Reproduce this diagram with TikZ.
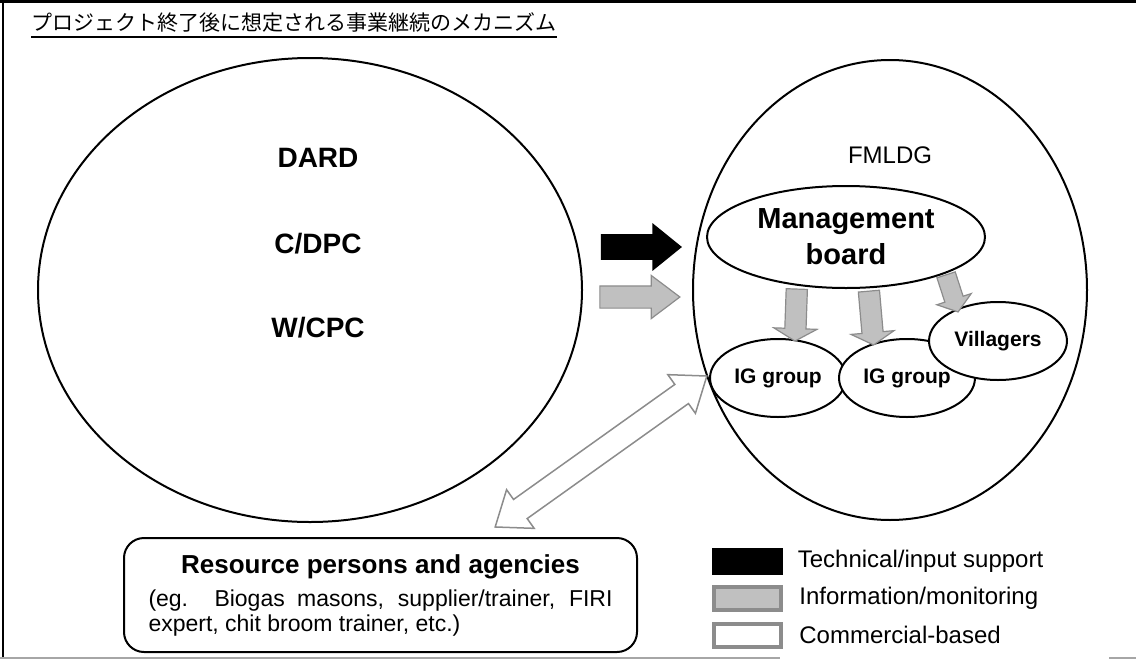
\documentclass[tikz,border=0pt]{standalone}
\usepackage{fontspec}
\setmainfont{Liberation Sans}
\newfontfamily\jpfont{Noto Sans CJK JP}
\usetikzlibrary{positioning,calc,shapes.geometric,shapes.arrows}
\definecolor{fillgray}{HTML}{C0C0C0}
\definecolor{edgegray}{HTML}{8C8C8C}
\definecolor{rulegray}{HTML}{A6A6A6}
\tikzset{
  bubble/.style={ellipse, draw, line width=1pt, inner sep=0pt},
  bigword/.style={font=\fontsize{14}{16}\selectfont\bfseries},
  groupword/.style={font=\fontsize{10.5}{12}\selectfont\bfseries},
  keyword/.style={font=\fontsize{12}{14}\selectfont, inner sep=0pt, anchor=west},
  techarrow/.style={single arrow, fill=black, inner xsep=0pt, inner ysep=6.25pt, minimum height=40.5pt,
    single arrow head extend=5.5pt, single arrow tip angle=78},
  infoarrow/.style={single arrow, fill=fillgray, draw=edgegray, line width=0.6pt, inner xsep=0pt, inner ysep=5.25pt,
    minimum height=40pt, single arrow head extend=5.25pt, single arrow tip angle=74},
  downarrow/.style={single arrow, fill=fillgray, draw=edgegray, line width=0.6pt, inner xsep=0pt, inner ysep=5pt,
    minimum height=26pt, single arrow head extend=5.5pt, single arrow tip angle=120},
  tradearrow/.style={double arrow, fill=white, draw=edgegray, line width=0.75pt, inner xsep=0pt, inner ysep=5.5pt,
    minimum height=130pt, double arrow head extend=6pt, double arrow tip angle=75},
  keybox/.style={minimum width=35.5pt, minimum height=13.5pt, inner sep=0pt},
}
\begin{document}
\begin{tikzpicture}[x=0.5pt,y=-0.5pt]
\useasboundingbox (0,0) rectangle (1136,659);
\draw[line width=1.5pt] (0,1.5) -- (1136,1.5);
\draw[line width=1pt] (3,0) -- (3,657);
\draw[line width=1pt, rulegray] (0,657.5) -- (780,657.5) (1109,657.5) -- (1136,657.5);

\node[anchor=base west, inner sep=0pt, font=\jpfont\fontsize{10.5}{13}\selectfont] (title) at (31,30) {プロジェクト終了後に想定される事業継続のメカニズム};
\draw[line width=0.8pt] ($(title.base west)+(0,7)$) -- ($(title.base east)+(0,7)$);

\node[bubble, minimum width=272pt, minimum height=232pt] (gov) at (310,290) {};
\node[bigword] (dard) at (318,158) {DARD};
\node[bigword] (dpc) at (318,244) {C/DPC};
\node[bigword] (cpc) at (318,328) {W/CPC};

\node[bubble, minimum width=197pt, minimum height=230pt] (fml) at (890,290) {};
\node[font=\fontsize{12}{14}\selectfont] (fmlname) at (890,155) {FMLDG};

\node[techarrow] (tech) at ($(gov.east)!0.5!(fml.west)+(-4,-43)$) {};
\node[infoarrow] (info) at ($(gov.east)!0.5!(fml.west)+(-5,7)$) {};

\node[bubble, fill=white, minimum width=139pt, minimum height=51pt, align=center,
  font=\fontsize{14.5}{18}\selectfont\bfseries] (board) at (846,237) {Management\\board};

\coordinate (restip) at (495,527);
\node[tradearrow, rotate=35.5] (trade) at ($(restip)!0.5!(707,376)$) {};

\node[bubble, minimum width=68pt, minimum height=39pt, groupword] (ig1) at (778,378) {IG group};
\node[bubble, fill=white, minimum width=68pt, minimum height=39pt, groupword] (ig2) at (907,378) {IG group};
\node[bubble, fill=white, minimum width=69pt, minimum height=39pt, groupword] (vil) at (998,341) {Villagers};

\node[downarrow, rotate=-92] (toig1) at ($(ig1.north)+(18,-26)$) {};
\node[downarrow, rotate=-85, minimum height=27pt] (toig2) at ($(ig2.north)+(-36,-23)$) {};
\node[downarrow, rotate=-72, minimum height=19.5pt, inner ysep=4.5pt,
  single arrow head extend=4.25pt, single arrow tip angle=107] (tovil) at ($(vil.north)+(-47,-11)$) {};

\node[draw, line width=1pt, rounded corners=10pt, minimum width=256.5pt, minimum height=57pt,
  align=center, font=\fontsize{11.5}{12.5}\selectfont] (res) at (380.5,595)
  {{\fontsize{13}{15}\selectfont\bfseries Resource persons and agencies}\\[4pt]
   \makebox[232pt][s]{(eg. Biogas masons, supplier/trainer, FIRI}\\
   \makebox[232pt][l]{expert, chit broom trainer, etc.)}};

\node[keybox, fill=black] (keytech) at (747.5,561) {};
\node[keybox, fill=fillgray, draw=edgegray, line width=2pt, minimum width=33.5pt, minimum height=11.5pt] (keyinfo) at (747.5,598) {};
\node[keybox, fill=white, draw=edgegray, line width=2pt, minimum width=33.5pt, minimum height=11.5pt] (keytrade) at (747.5,635) {};
\node[keyword, right=7pt of keytech] (techname) {Technical/input support};
\node[keyword, right=8pt of keyinfo] (infoname) {Information/monitoring};
\node[keyword, right=8pt of keytrade] (tradename) {Commercial-based};
\end{tikzpicture}
\end{document}
